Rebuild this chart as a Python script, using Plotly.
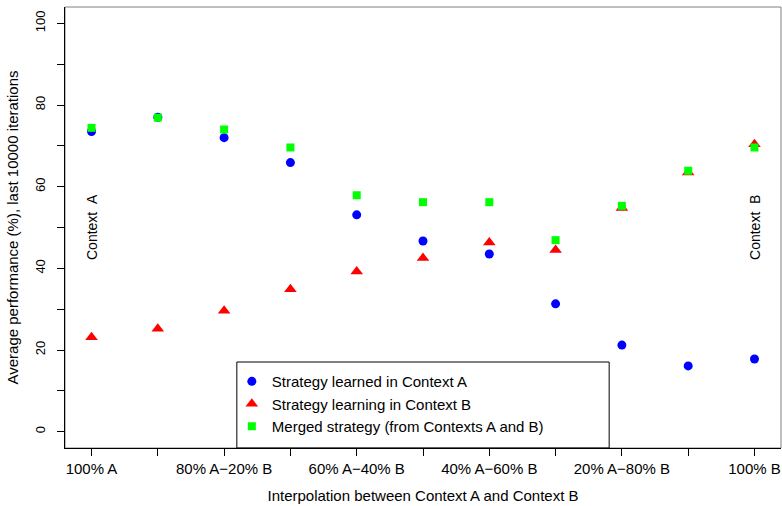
import plotly.graph_objects as go

positions = list(range(1, 12))
tick_labels = ["100% A", "", "80% A\u221220% B", "", "60% A\u221240% B", "",
               "40% A\u221260% B", "", "20% A\u221280% B", "", "100% B"]

learned_A = [73.5, 77.0, 72.0, 65.9, 53.1, 46.7, 43.5, 31.3, 21.2, 16.1, 17.8]
learning_B = [23.1, 25.2, 29.6, 34.9, 39.2, 42.5, 46.3, 44.5, 54.8, 63.5, 70.4]
merged = [74.4, 76.9, 74.0, 69.6, 57.9, 56.2, 56.2, 46.9, 55.3, 63.9, 69.6]

y_ticks = list(range(0, 101, 10))
y_ticktext = [str(v) if v % 20 == 0 else "" for v in y_ticks]

FONT = "Liberation Sans, Arial, Helvetica, sans-serif"

fig = go.Figure()
fig.add_trace(go.Scatter(x=positions, y=learned_A, mode="markers",
                         name="Strategy learned in Context A",
                         marker=dict(symbol="circle", size=9, color="#0000FF")))
fig.add_trace(go.Scatter(x=positions, y=learning_B, mode="markers",
                         name="Strategy learning in Context B",
                         marker=dict(symbol="triangle-up", size=11, color="#FF0000")))
fig.add_trace(go.Scatter(x=positions, y=merged, mode="markers",
                         name="Merged strategy (from Contexts A and B)",
                         marker=dict(symbol="square", size=8, color="#00FF00")))

fig.update_layout(
    width=782, height=506,
    margin=dict(l=65, r=1, t=7, b=58, autoexpand=False),
    paper_bgcolor="white", plot_bgcolor="white",
    font=dict(family=FONT, size=13, color="black"),
    showlegend=True,
    legend=dict(x=0.233, y=0.188, xanchor="left", yanchor="top",
                bgcolor="rgba(0,0,0,0)", borderwidth=0,
                font=dict(size=15, family=FONT), itemwidth=30,
                tracegroupgap=0),
    xaxis=dict(range=[0.6, 11.4], tickmode="array", tickvals=positions,
               ticktext=tick_labels, ticks="outside", ticklen=7,
               tickcolor="black", showline=True, linecolor="black",
               linewidth=1, showgrid=False, zeroline=False, automargin=False,
               tickfont=dict(size=15), ticklabelstandoff=0,
               title=dict(text="Interpolation between Context A and Context B",
                          font=dict(size=15), standoff=14)),
    yaxis=dict(range=[-4, 104], tickmode="array", tickvals=y_ticks,
               ticktext=y_ticktext, ticks="outside", ticklen=7,
               tickcolor="black", showline=True, linecolor="black",
               linewidth=1, showgrid=False, zeroline=False, tickangle=-90,
               automargin=False, tickfont=dict(size=13), ticklabelstandoff=7,
               title=dict(text="Average performance (%), last 10000 iterations",
                          font=dict(size=15), standoff=10)),
    shapes=[
        dict(type="rect", xref="paper", yref="paper", x0=0, x1=1, y0=0, y1=1,
             line=dict(color="#808080", width=1), layer="below"),
        dict(type="rect", xref="paper", yref="paper", x0=0.240, x1=0.760,
             y0=0, y1=0.195, line=dict(color="black", width=1)),
    ],
    annotations=[
        dict(x=1, y=50, xref="x", yref="y", text="Context\u00a0\u00a0A",
             textangle=-90, showarrow=False, font=dict(size=14)),
        dict(x=11, y=50, xref="x", yref="y", text="Context\u00a0\u00a0B",
             textangle=-90, showarrow=False, font=dict(size=14)),
    ],
)

fig.write_html("out.html", config={"displayModeBar": False},
               post_script="document.body.style.margin='0';document.body.style.padding='0';document.body.style.overflow='hidden';")
